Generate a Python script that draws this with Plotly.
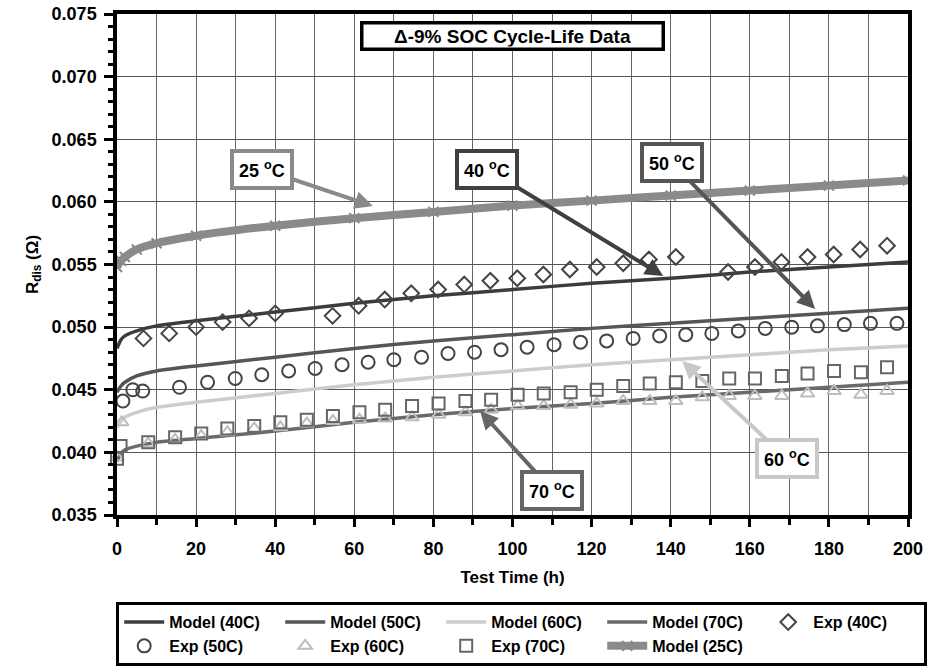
import plotly.graph_objects as go

# ---------------- data ----------------
t_model = [0, 1, 2, 5, 10, 20, 40, 60, 80, 100, 120, 140, 160, 180, 200]
model_25 = [0.0548, 0.0553, 0.0556, 0.0562, 0.0567, 0.0573, 0.0581, 0.0587, 0.0592,
            0.0597, 0.0601, 0.0605, 0.0609, 0.0613, 0.0617]
model_40 = [0.0483, 0.0490, 0.0493, 0.0497, 0.0501, 0.0505, 0.0512, 0.0519, 0.0525,
            0.0530, 0.0535, 0.0539, 0.0544, 0.0548, 0.0552]
model_50 = [0.0448, 0.0453, 0.0456, 0.0461, 0.0465, 0.0469, 0.0476, 0.0483, 0.0489,
            0.0494, 0.0499, 0.0503, 0.0507, 0.0511, 0.0515]
model_60 = [0.0420, 0.0425, 0.0428, 0.0432, 0.0436, 0.0440, 0.0447, 0.0454, 0.0460,
            0.0465, 0.0470, 0.0474, 0.0478, 0.0482, 0.0485]
model_70 = [0.0393, 0.0399, 0.0402, 0.0405, 0.0408, 0.0411, 0.0417, 0.0424, 0.0430,
            0.0435, 0.0439, 0.0444, 0.0448, 0.0452, 0.0456]

t_exp40 = [6.7, 13.2, 20.0, 26.7, 33.4, 40.0, 54.5, 61.1, 67.7, 74.4, 81.2, 87.8, 94.4,
           101.2, 107.8, 114.5, 121.3, 128.0, 134.5, 141.3, 154.5, 161.3, 168.0, 174.6,
           181.2, 187.9, 194.7]
exp_40 = [0.0491, 0.0495, 0.0500, 0.0504, 0.0507, 0.0511, 0.0509, 0.0517, 0.0522, 0.0527,
          0.0530, 0.0534, 0.0537, 0.0539, 0.0542, 0.0546, 0.0548, 0.0551, 0.0554, 0.0556,
          0.0544, 0.0548, 0.0552, 0.0556, 0.0558, 0.0562, 0.0565]

t_exp50 = [1.5, 4.0, 6.5, 15.8, 22.9, 29.9, 36.6, 43.4, 50.1, 56.9, 63.5, 70.0, 77.0, 83.7,
           90.4, 97.1, 103.7, 110.5, 117.2, 123.8, 130.5, 137.2, 143.8, 150.4, 157.1,
           163.9, 170.6, 177.1, 183.9, 190.5, 197.2]
exp_50 = [0.0441, 0.0450, 0.0449, 0.0452, 0.0456, 0.0459, 0.0462, 0.0465, 0.0467, 0.0470,
          0.0472, 0.0474, 0.0476, 0.0479, 0.0480, 0.0482, 0.0484, 0.0486, 0.0488, 0.0489,
          0.0491, 0.0493, 0.0494, 0.0495, 0.0497, 0.0499, 0.0500, 0.0501, 0.0502, 0.0503,
          0.0503]

t_exp60 = [0.0, 1.2, 7.9, 14.7, 21.3, 27.9, 34.7, 41.3, 48.0, 54.6, 61.3, 67.8, 74.6, 81.3,
           88.1, 94.6, 101.3, 107.9, 114.7, 121.3, 128.0, 134.7, 141.3, 148.0, 154.8,
           161.3, 168.1, 174.6, 181.3, 188.1, 194.7]
exp_60 = [0.0396, 0.0424, 0.0407, 0.0410, 0.0413, 0.0416, 0.0419, 0.0420, 0.0423, 0.0425,
          0.0426, 0.0427, 0.0428, 0.0430, 0.0432, 0.0434, 0.0437, 0.0437, 0.0438, 0.0439,
          0.0441, 0.0441, 0.0441, 0.0444, 0.0445, 0.0445, 0.0445, 0.0447, 0.0449, 0.0446,
          0.0449]

t_exp70 = [0.0, 0.9, 7.9, 14.7, 21.3, 27.9, 34.7, 41.3, 48.0, 54.6, 61.3, 67.8, 74.6, 81.3,
           88.1, 94.6, 101.3, 107.9, 114.7, 121.3, 128.0, 134.7, 141.3, 148.0, 154.8,
           161.3, 168.1, 174.6, 181.3, 188.1, 194.7]
exp_70 = [0.0395, 0.0405, 0.0408, 0.0412, 0.0415, 0.0419, 0.0421, 0.0424, 0.0426, 0.0429,
          0.0432, 0.0434, 0.0437, 0.0439, 0.0441, 0.0442, 0.0446, 0.0447, 0.0448, 0.0450,
          0.0453, 0.0455, 0.0456, 0.0457, 0.0459, 0.0459, 0.0461, 0.0463, 0.0465, 0.0464,
          0.0468]

x_ticks = [0, 20, 40, 60, 80, 100, 120, 140, 160, 180, 200]
y_ticks = [0.035, 0.040, 0.045, 0.050, 0.055, 0.060, 0.065, 0.070, 0.075]

# label boxes: (text, arrow tip t, arrow tip R, box offset px, colour)
labels = [
    ("25 <sup>o</sup>C", 64.7, 0.05967, -111, -37, "#8a8a8a"),
    ("40 <sup>o</sup>C", 138.1, 0.05408, -176, -107, "#404040"),
    ("50 <sup>o</sup>C", 176.5, 0.05145, -143, -146, "#555555"),
    ("60 <sup>o</sup>C", 142.9, 0.04730, 105, 98, "#c8c8c8"),
    ("70 <sup>o</sup>C", 91.8, 0.04330, 72, 79, "#666666"),
]
title_text = "Δ-9% SOC Cycle-Life Data"

FONT = "Liberation Sans, Arial, Helvetica, sans-serif"

fig = go.Figure()

def model_trace(name, y, color, width=3.5):
    fig.add_trace(go.Scatter(x=t_model, y=y, name=name, mode="lines",
                             line=dict(color=color, width=width, shape="spline",
                                       smoothing=0.6)))

model_trace("Model (40C)", model_40, "#3c3c3c")
model_trace("Model (50C)", model_50, "#565656")
model_trace("Model (60C)", model_60, "#cdcdcd")
model_trace("Model (70C)", model_70, "#6a6a6a")

def exp_trace(name, x, y, symbol, color, size):
    fig.add_trace(go.Scatter(x=x, y=y, name=name, mode="markers", cliponaxis=False,
                             marker=dict(symbol=symbol, size=size, color=color,
                                         line=dict(color=color, width=2))))

exp_trace("Exp (40C)", t_exp40, exp_40, "diamond-open", "#444444", 12)
exp_trace("Exp (50C)", t_exp50, exp_50, "circle-open", "#444444", 13)
exp_trace("Exp (60C)", t_exp60, exp_60, "triangle-up-open", "#bdbdbd", 12)
exp_trace("Exp (70C)", t_exp70, exp_70, "square-open", "#666666", 12)

fig.add_trace(go.Scatter(x=t_model, y=model_25, name="Model (25C)", mode="lines+markers",
                         line=dict(color="#8a8a8a", width=8, shape="spline", smoothing=0.6),
                         marker=dict(symbol="x-thin", size=10, color="#8a8a8a",
                                     line=dict(color="#8a8a8a", width=2))))

annotations = []
for text, tx, ty, ax, ay, col in labels:
    annotations.append(dict(
        x=tx, y=ty, xref="x", yref="y", text=text, showarrow=True,
        ax=ax, ay=ay, axref="pixel", ayref="pixel",
        arrowhead=2, arrowsize=0.9, arrowwidth=4, arrowcolor=col,
        font=dict(family=FONT, size=18, color="black", weight="bold"),
        bgcolor="white", bordercolor=col, borderwidth=4, borderpad=5))
annotations.append(dict(
    x=0.5006, y=0.956, xref="paper", yref="paper", text=title_text, showarrow=False,
    font=dict(family=FONT, size=19, color="black", weight="bold"),
    bgcolor="white", bordercolor="black", borderwidth=3.5, borderpad=1,
    xanchor="center", yanchor="middle", width=296))

fig.update_layout(
    width=929, height=671,
    margin=dict(l=117, r=21, t=14, b=156, autoexpand=False),
    paper_bgcolor="white", plot_bgcolor="white",
    font=dict(family=FONT, size=17, color="black"),
    showlegend=True,
    legend=dict(orientation="h", x=-0.001, xanchor="left", y=-0.174, yanchor="top",
                bordercolor="black", borderwidth=3, bgcolor="white",
                font=dict(family=FONT, size=16, color="black", weight="bold"),
                itemwidth=40, tracegroupgap=0, entrywidth=106, entrywidthmode="pixels"),
    annotations=annotations,
)

fig.update_xaxes(
    range=[0, 200], tickvals=x_ticks, ticks="outside", ticklen=8, tickwidth=3,
    tickcolor="black", showline=True, linewidth=3.5, linecolor="black", mirror=True,
    showgrid=True, gridcolor="#666666", gridwidth=1.2, zeroline=False,
    tickfont=dict(family=FONT, size=18, weight="bold"), ticklabelstandoff=7,
    minor=dict(dtick=10, tick0=0, ticks="outside", ticklen=6, tickwidth=3,
               tickcolor="black", showgrid=True, gridcolor="#666666", gridwidth=1.2),
    title=dict(text="<b>Test Time (h)</b>", font=dict(family=FONT, size=17), standoff=14),
)
fig.update_yaxes(
    range=[0.035, 0.075], tickvals=y_ticks, tickformat=".3f", ticks="outside",
    ticklen=9, tickwidth=3, tickcolor="black", showline=True, linewidth=3.5,
    linecolor="black", mirror=True, showgrid=True, gridcolor="#555555", gridwidth=1.2,
    zeroline=False, tickfont=dict(family=FONT, size=18, weight="bold"),
    ticklabelstandoff=4,
    minor=dict(dtick=0.001, tick0=0.035, ticks="outside", ticklen=5, tickwidth=3,
               tickcolor="black", showgrid=False),
    title=dict(text="<b>R<sub>dis</sub> (Ω)</b>", font=dict(family=FONT, size=17), standoff=10),
)

fig.write_html("out.html")
